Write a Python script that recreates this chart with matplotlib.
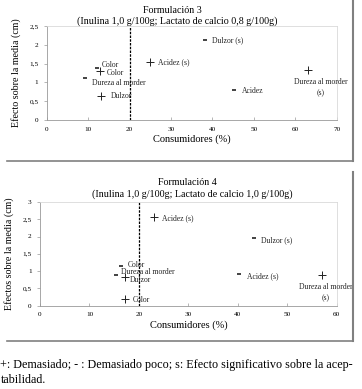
import matplotlib
matplotlib.use("Agg")
import matplotlib.pyplot as plt
from matplotlib.lines import Line2D
from matplotlib.ticker import FuncFormatter

plt.rcParams['font.family'] = ['Liberation Serif', 'DejaVu Serif']

# Formulacion 3
f3_x = [38.3, 25.0, 12.2, 12.8, 9.2, 13.0, 45.2, 63.0]
f3_y = [2.13, 1.55, 1.37, 1.31, 1.12, 0.64, 0.80, 1.32]
f3_tipo = ['-', '+', '-', '+', '-', '+', '-', '+']
f3_etiq = ['Dulzor (s)', 'Acidez (s)', 'Color', 'Color', 'Dureza al morder',
           'Dulzor', 'Acidez', 'Dureza al morder\n(s)']

# Formulacion 4
f4_x = [23.1, 43.3, 16.3, 15.3, 17.1, 17.2, 40.2, 57.0]
f4_y = [2.56, 1.95, 1.14, 0.87, 0.84, 0.18, 0.90, 0.88]
f4_tipo = ['+', '-', '-', '-', '+', '+', '-', '+']
f4_etiq = ['Acidez (s)', 'Dulzor (s)', 'Color', 'Dureza al morder', 'Dulzor',
           'Color', 'Acidez (s)', 'Dureza al morder\n(s)']

# desplazamiento de etiquetas (pixeles)
f3_off = [(7, 0, 'left'), (8, 0, 'left'), (5, 3, 'left'), (7, -2, 'left'),
          (7, -5, 'left'), (10, 0, 'left'), (8, -1, 'left'), (13, -8, 'center')]
f4_off = [(8, -1, 'left'), (7, -2, 'left'), (7, 1, 'left'), (5, 3, 'left'),
          (5, -3, 'left'), (8, -1, 'left'), (8, -2, 'left'), (4, -8, 'center')]

W, H = 362, 389
fig = plt.figure(figsize=(W / 100, H / 100), dpi=100)


def px(x0, y0, x1, y1):
    return [x0 / W, 1 - y1 / H, (x1 - x0) / W, (y1 - y0) / H]


coma = FuncFormatter(lambda v, p: ('%g' % v).replace('.', ','))


def dibujar(ax, xs, ys, tipos, etiqs, offs, xmax, ymax, ylabel):
    for x, y, t, e, (dx, dy, ha) in zip(xs, ys, tipos, etiqs, offs):
        if t == '+':
            ax.plot(x, y, marker='+', ms=6, mew=0.7, color='#222222', ls='none')
        else:
            ax.plot(x, y, marker='_', ms=3.5, mew=1.2, color='#222222', ls='none')
        va = 'top' if ha == 'center' else 'center'
        ax.annotate(e, (x, y), xytext=(dx, dy), textcoords='offset pixels',
                    ha=ha, va=va, fontsize=5.5, color='#222222',
                    multialignment='center', linespacing=1.5)
    ax.axvline(20, color='black', ls=(0, (2, 1)), lw=0.9)
    ax.set_xlim(0, xmax)
    ax.set_ylim(0, ymax)
    ax.set_xticks(range(0, xmax + 1, 10))
    ax.yaxis.set_major_formatter(coma)
    ax.tick_params(axis='y', direction='out', length=2, width=0.5,
                   color='#999999', labelsize=5.2, pad=4)
    ax.tick_params(axis='x', direction='in', length=2, width=0.5,
                   color='#999999', labelsize=5.2, pad=5)
    for s in ['top', 'right']:
        ax.spines[s].set_color('#d9d9d9')
        ax.spines[s].set_linewidth(0.6)
    for s in ['left', 'bottom']:
        ax.spines[s].set_color('#999999')
        ax.spines[s].set_linewidth(0.6)
    ax.set_xlabel('Consumidores (%)', fontsize=7.5, labelpad=2)
    ax.set_ylabel(ylabel, fontsize=7.2, labelpad=6)


ax1 = fig.add_axes(px(46.7, 26, 336.7, 120))
dibujar(ax1, f3_x, f3_y, f3_tipo, f3_etiq, f3_off, 70, 2.5,
        'Efecto sobre la media (cm)')
ax1.set_yticks([0, 0.5, 1, 1.5, 2, 2.5])

ax2 = fig.add_axes(px(40, 202, 336.7, 305.5))
dibujar(ax2, f4_x, f4_y, f4_tipo, f4_etiq, f4_off, 60, 3,
        'Efectos sobre la media (cm)')
ax2.set_yticks([0, 0.5, 1, 1.5, 2, 2.5, 3])

fig.text(172 / W, 1 - 10.7 / H, 'Formulación 3', ha='center', va='center', fontsize=7.2)
fig.text(177 / W, 1 - 21 / H, '(Inulina 1,0 g/100g; Lactato de calcio 0,8 g/100g)',
         ha='center', va='center', fontsize=7.2)
fig.text(187 / W, 1 - 182.3 / H, 'Formulación 4', ha='center', va='center', fontsize=7.2)
fig.text(192 / W, 1 - 194 / H, '(Inulina 1,0 g/100g; Lactato de calcio 1,0 g/100g)',
         ha='center', va='center', fontsize=7.2)

# marcos de los graficos
for top, bot in [(0, 161), (172, 341)]:
    fig.add_artist(Line2D([352.5 / W, 352.5 / W], [1 - top / H, 1 - bot / H],
                          color='#808080', lw=1.5))
    fig.add_artist(Line2D([7 / W, 352.5 / W], [1 - bot / H, 1 - bot / H],
                          color='#808080', lw=1.2))

nota1 = fig.text(0.5 / W, 1 - 365 / H,
                 '+: Demasiado; - : Demasiado poco; s: Efecto significativo sobre la acep-',
                 ha='left', va='center', fontsize=8.1)
nota2 = fig.text(0.5 / W, 1 - 380 / H, 'tabilidad.', ha='left', va='center', fontsize=8.1)

# ajustar la nota al ancho (hasta ~355 px)
r = fig.canvas.get_renderer()
ancho = nota1.get_window_extent(r).width
fs = min(9.0, 8.1 * 354 / ancho)
nota1.set_fontsize(fs)
nota2.set_fontsize(fs)

fig.savefig('out.png', dpi=100)
